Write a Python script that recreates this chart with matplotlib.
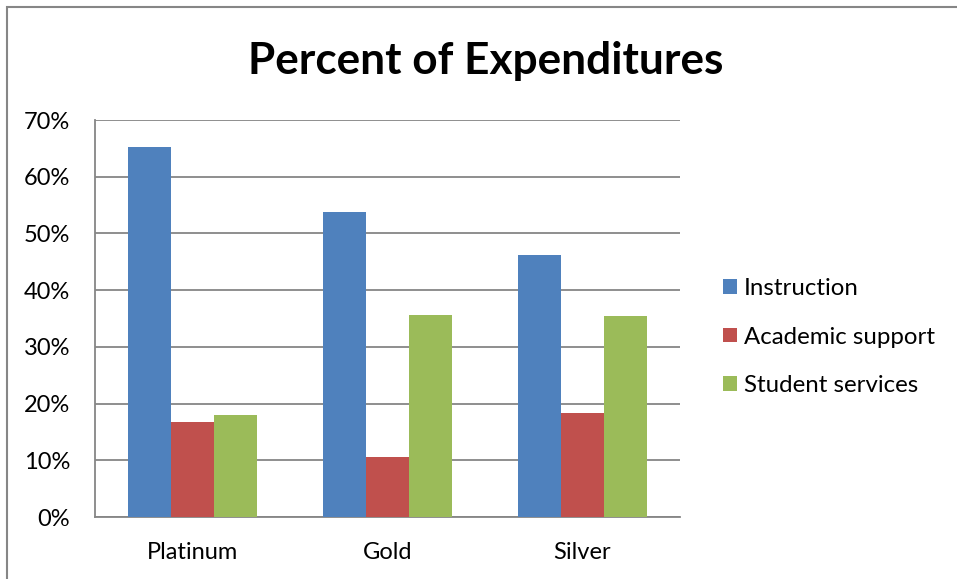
import numpy as np
import matplotlib
matplotlib.use("Agg")
import matplotlib.pyplot as plt
from matplotlib.patches import Rectangle
from matplotlib.ticker import PercentFormatter

categories = ["Platinum", "Gold", "Silver"]
series = ["Instruction", "Academic support", "Student services"]
instruction = [65.3, 53.8, 46.2]
academic = [16.8, 10.6, 18.4]
student = [18.0, 35.7, 35.5]
colors = ["#4f81bd", "#c0504d", "#9bbb59"]

plt.rcParams['font.family'] = ['Lato', 'DejaVu Sans']

fig = plt.figure(figsize=(9.57, 5.79), dpi=100)
ax = fig.add_axes([95 / 957, 62 / 579, 585 / 957, 397 / 579])

x = np.arange(len(categories))
w = 0.22
for i, (vals, name) in enumerate(zip([instruction, academic, student], series)):
    ax.bar(x + (i - 1) * w, vals, w, color=colors[i], label=name, zorder=3)

ax.set_xlim(-0.5, 2.5)
ax.set_ylim(0, 70)
ax.set_yticks(np.arange(0, 71, 10))
ax.yaxis.set_major_formatter(PercentFormatter(decimals=0))
ax.set_xticks(x)
ax.set_xticklabels(categories)
ax.grid(axis="y", color="#868686", linewidth=1.3, zorder=0)
for s in ["top", "right"]:
    ax.spines[s].set_visible(False)
for s in ["left", "bottom"]:
    ax.spines[s].set_color("#868686")
    ax.spines[s].set_linewidth(1.3)
ax.tick_params(axis="both", length=0, labelsize=17, colors="black")
ax.tick_params(axis="y", pad=18)
ax.tick_params(axis="x", pad=18)

fig.text(486 / 957, 1 - 61 / 579, "Percent of Expenditures", ha="center", va="center",
         fontsize=31.8, fontweight="bold")

ax.legend(loc="center left", bbox_to_anchor=(701 / 957, 1 - 337 / 579),
          bbox_transform=fig.transFigure, frameon=False, fontsize=17.3,
          handlelength=0.58, handleheight=0.58, handletextpad=0.3, labelspacing=1.15)

fig.patches.append(Rectangle((7 / 957, -0.1), 1.2, 1 - 7 / 579 + 0.1,
                             transform=fig.transFigure, fill=False,
                             edgecolor="#868686", linewidth=1.5))

fig.savefig("out.png", dpi=100)
